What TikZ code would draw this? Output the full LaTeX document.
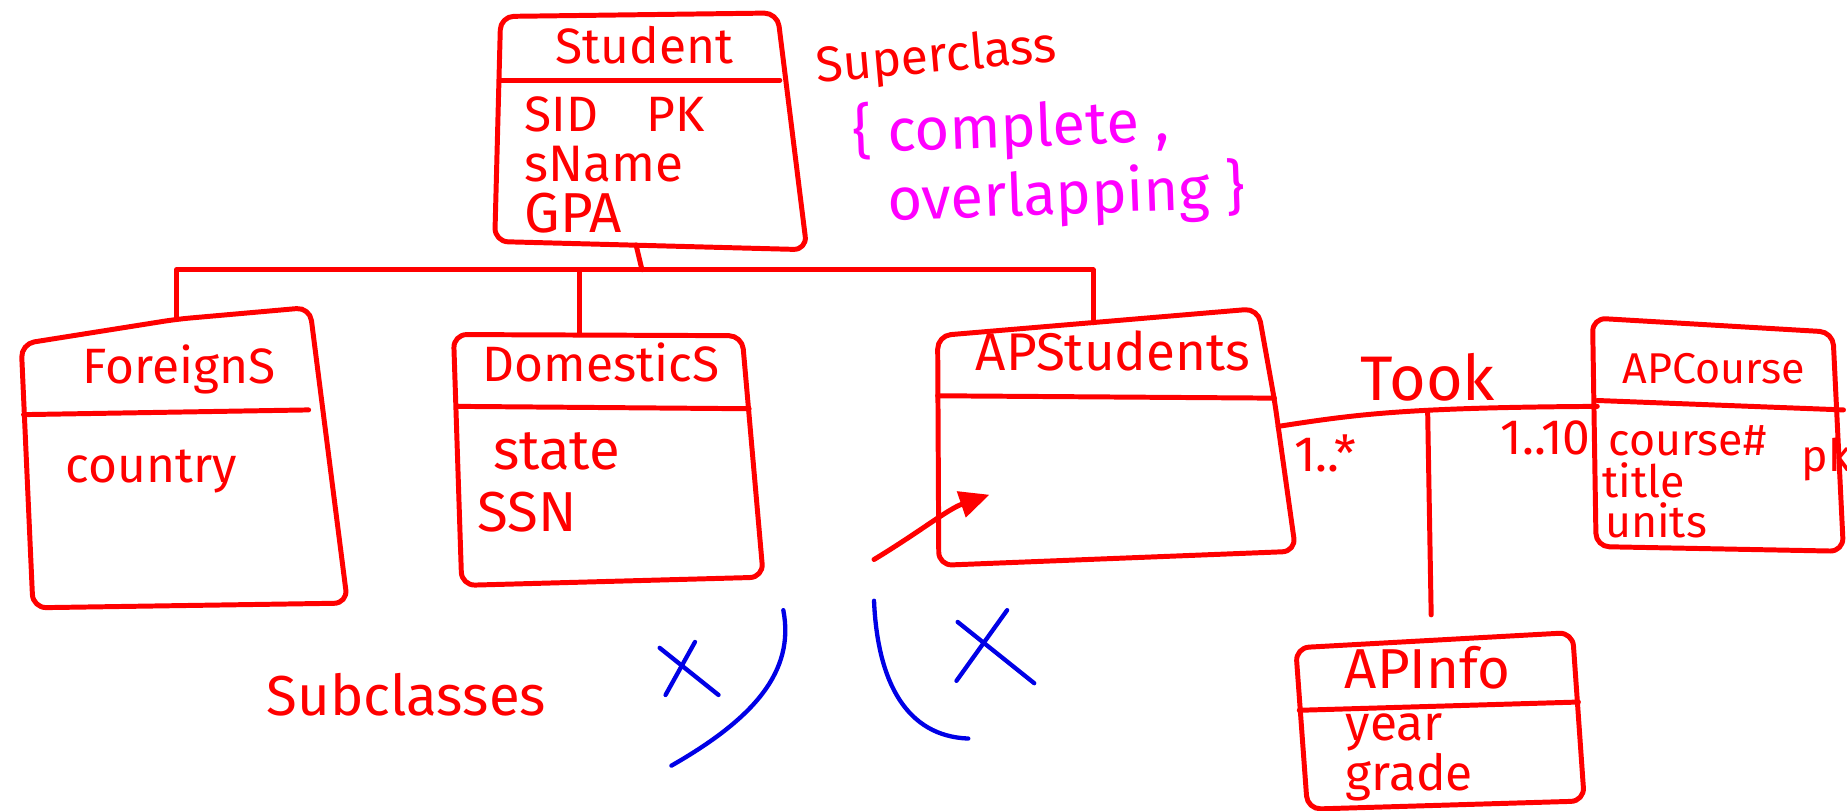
\documentclass[tikz,border=0pt]{standalone}
\usepackage{fontspec}
\setmainfont{Fira Sans}
\usetikzlibrary{arrows.meta}
\definecolor{pen}{RGB}{255,0,0}
\definecolor{mag}{RGB}{255,0,255}
\definecolor{ink}{RGB}{0,0,230}
\tikzset{
  box/.style={draw=pen, line width=1.5pt, line join=round, line cap=round, rounded corners=4},
  conn/.style={draw=pen, line width=1.5pt, line cap=round, line join=round},
  cls/.style={text=pen, font=\fontsize{15}{18}\selectfont, inner sep=0pt},
  attr/.style={text=pen, font=\fontsize{15}{18}\selectfont, anchor=west, inner sep=0pt},
  small/.style={font=\fontsize{13.5}{15}\selectfont},
  note/.style={text=mag, font=\fontsize{18}{20}\selectfont, inner sep=0pt},
  blu/.style={draw=ink, line width=1.3pt, line cap=round},
}
\begin{document}
\begin{tikzpicture}[x=0.0125cm,y=-0.0125cm]
\useasboundingbox[fill=white] (0,0) rectangle (1568,688);

% ---------- Student ----------
\draw[box] (425,14) -- (660,11) -- (685,212) -- (420,205) -- cycle;
\draw[conn] (424,68) -- (662,68);
\node[cls] (stuT) at (547,38) {Student};
\node[attr] (stu1) at (445,97) {SID};
\node[attr] (stu1b) at (548,97) {PK};
\node[attr, font=\fontsize{15.5}{18}\selectfont] (stu2) at (445,139) {sName};
\node[attr, font=\fontsize{17}{18}\selectfont] (stu3) at (445,181) {GPA};

\node[text=pen, font=\fontsize{15}{18}\selectfont, rotate=5, inner sep=0pt] (sup) at (795,50) {Superclass};
\node[note, rotate=2] (cmp) at (858,109) {\{ complete ,};
\node[note, rotate=2] (ovl) at (905,166) {overlapping \}};

% ---------- ForeignS ----------
\draw[box] (18,292) -- (150,271) -- (263,261) -- (295,512) -- (28,516) -- cycle;
\draw[conn] (20,352) -- (262,348);
\node[cls] (forT) at (152,314) {ForeignS};
\node[attr] (for1) at (55,400) {country};

% ---------- DomesticS ----------
\draw[box] (385,284) -- (630,285) -- (648,490) -- (392,497) -- cycle;
\draw[conn] (389,345) -- (636,347);
\node[cls] (domT) at (510,308) {DomesticS};
\node[attr, font=\fontsize{17}{18}\selectfont] (dom1) at (418,383) {state};
\node[attr, font=\fontsize{17}{18}\selectfont] (dom2) at (405,435) {SSN};

% ---------- APStudents ----------
\draw[box] (796,285) -- (1068,262) -- (1082,340) -- (1100,468) -- (797,480) -- cycle;
\draw[conn] (796,336) -- (1082,338);
\node[cls, font=\fontsize{16}{18}\selectfont] (apsT) at (945,298) {APStudents};

% ---------- APCourse ----------
\draw[box] (1352,270) -- (1556,282) -- (1565,468) -- (1355,464) -- cycle;
\draw[conn] (1356,340) -- (1565,348);
\node[cls, font=\fontsize{13}{15}\selectfont] (apcT) at (1455,313) {APCourse};
\node[attr, small] (apc1) at (1365,374) {course\#};
\node[attr, small] (apc1b) at (1529,390) {pk};
\node[attr, small] (apc2) at (1360,408) {title};
\node[attr, small] (apc3) at (1362,442) {units};

% ---------- APInfo ----------
\draw[box] (1100,550) -- (1335,537) -- (1345,680) -- (1110,687) -- cycle;
\draw[conn] (1103,603) -- (1340,596);
\node[cls, font=\fontsize{17}{18}\selectfont] (apiT) at (1212,567) {APInfo};
\node[attr] (api1) at (1142,622) {year};
\node[attr] (api2) at (1142,660) {grade};

% ---------- generalization connectors ----------
\coordinate (stuBot) at (540,208);
\coordinate (hub) at (545,229);
\coordinate (fTop) at (150,271);
\coordinate (dTop) at (492,284);
\coordinate (aTop) at (928,274);
\draw[conn] (stuBot) -- (hub);
\draw[conn] (fTop) |- (hub);
\draw[conn] (hub) -| (aTop);
\draw[conn] (dTop) -- (dTop |- hub);

\node[text=pen, font=\fontsize{17}{18}\selectfont, inner sep=0pt] (sub) at (345,590) {Subclasses};

% ---------- association ----------
\coordinate (aR) at (1085,362);
\coordinate (cL) at (1356,345);
\coordinate (tk) at (1212,349);
\coordinate (iTop) at (1215,522);
\draw[conn] (aR) .. controls (1150,352) and (1190,346) .. (cL);
\draw[conn] (tk) -- (iTop);
\node[cls, font=\fontsize{19}{20}\selectfont] (took) at (1212,320) {Took};
\node[cls] (m1) at (1125,385) {1..*};
\node[cls] (m2) at (1312,372) {1..10};

% ---------- arrow ----------
\coordinate (arS) at (742,475);
\coordinate (arE) at (840,420);
\draw[conn, -{Triangle[length=9pt,width=8pt]}] (arS) .. controls (780,452) and (805,432) .. (arE);

% ---------- blue marks ----------
\draw[blu] (560,550) -- (610,590);
\draw[blu] (590,545) -- (565,590);
\draw[blu] (665,518) .. controls (675,570) and (640,610) .. (570,650);
\draw[blu] (742,510) .. controls (745,580) and (770,625) .. (822,627);
\draw[blu] (813,528) -- (878,580);
\draw[blu] (855,518) -- (812,578);
\end{tikzpicture}
\end{document}
